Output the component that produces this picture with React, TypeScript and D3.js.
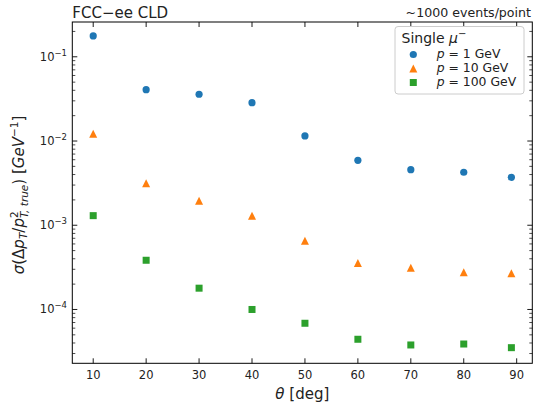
import React from "react";
import * as d3 from "d3";

const thetas = [10, 20, 30, 40, 50, 60, 70, 80, 89];
const p1GeV = [0.177, 0.0407, 0.0359, 0.0285, 0.01148, 0.0059, 0.00457, 0.00426, 0.00371];
const p10GeV = [0.01222, 0.00315, 0.00196, 0.0013, 0.000656, 0.000356, 0.000313, 0.000277, 0.000269];
const p100GeV = [0.0013, 0.000384, 0.000179, 0.0001, 6.86e-5, 4.43e-5, 3.79e-5, 3.89e-5, 3.52e-5];
const xTicks = [10, 20, 30, 40, 50, 60, 70, 80, 90];
const yDecades = [-4, -3, -2, -1];
const legendLabels = ["1", "10", "100"];

const W = 534, H = 403;
const L = 72.3, R = 532.3, T = 22, B = 363.3;
const FONT = "DejaVu Sans, sans-serif";
const colors = ["#1f77b4", "#ff7f0e", "#2ca02c"];

export default function App() {
  const x = d3.scaleLinear().domain([6.05, 92.95]).range([L, R]);
  const y = d3.scaleLog().domain([Math.pow(10, -4.639), Math.pow(10, -0.587)]).range([B, T]);
  const [ymin, ymax] = y.domain();
  const minors: number[] = [];
  for (let e = -5; e <= 0; e++) {
    for (let k = 2; k <= 9; k++) {
      const v = k * Math.pow(10, e);
      if (v >= ymin && v <= ymax) minors.push(v);
    }
  }
  const series = [p1GeV, p10GeV, p100GeV];

  const marker = (i: number, cx: number, cy: number, key: string) => {
    if (i === 0) return <circle key={key} cx={cx} cy={cy} r={3.6} fill={colors[0]} />;
    if (i === 1) {
      const s = 4;
      return <path key={key} d={`M${cx},${cy - s}L${cx - s},${cy + s}L${cx + s},${cy + s}Z`} fill={colors[1]} />;
    }
    const h = 3.5;
    return <rect key={key} x={cx - h} y={cy - h} width={2 * h} height={2 * h} fill={colors[2]} />;
  };

  return (
    <svg width={W} height={H} style={{ position: "fixed", left: 0, top: 0, background: "#fff" }} fontFamily={FONT}>
      <rect x={0} y={0} width={W} height={H} fill="#fff" />
      {/* ticks */}
      {xTicks.map((t) => (
        <g key={"xt" + t}>
          <line x1={x(t)} x2={x(t)} y1={B} y2={B - 5} stroke="#000" strokeWidth={0.9} />
          <line x1={x(t)} x2={x(t)} y1={T} y2={T + 5} stroke="#000" strokeWidth={0.9} />
          <text x={x(t)} y={379} fontSize={11.5} textAnchor="middle" fill="#222">{t}</text>
        </g>
      ))}
      {yDecades.map((e) => {
        const yy = y(Math.pow(10, e));
        return (
          <g key={"yt" + e}>
            <line x1={L} x2={L + 5} y1={yy} y2={yy} stroke="#000" strokeWidth={0.9} />
            <line x1={R} x2={R - 5} y1={yy} y2={yy} stroke="#000" strokeWidth={0.9} />
            <text x={67} y={yy + 4} fontSize={11.5} textAnchor="end" fill="#222">
              10<tspan dy={-5} fontSize={8.5}>{"\u2212" + -e}</tspan>
            </text>
          </g>
        );
      })}
      {minors.map((v, i) => (
        <g key={"mn" + i}>
          <line x1={L} x2={L + 3} y1={y(v)} y2={y(v)} stroke="#000" strokeWidth={0.7} />
          <line x1={R} x2={R - 3} y1={y(v)} y2={y(v)} stroke="#000" strokeWidth={0.7} />
        </g>
      ))}
      {/* data */}
      {series.map((s, i) => (
        <g key={"s" + i}>
          {s.map((v, j) => marker(i, x(thetas[j]), y(v), `m${i}-${j}`))}
        </g>
      ))}
      {/* frame */}
      <rect x={L} y={T} width={R - L} height={B - T} fill="none" stroke="#000" strokeWidth={1} />
      {/* titles */}
      <text x={L} y={17.5} fontSize={15} fill="#222">FCC{"\u2212"}ee CLD</text>
      <text x={531} y={16.5} fontSize={12.6} textAnchor="end" fill="#222">~1000 events/point</text>
      {/* x label */}
      <text x={(L + R) / 2} y={399} fontSize={15} textAnchor="middle" fill="#222">
        <tspan fontStyle="italic">θ</tspan> [deg]
      </text>
      {/* y label */}
      <text transform={`translate(24,195) rotate(-90)`} fontSize={15} textAnchor="middle" fill="#222">
        <tspan fontStyle="italic">σ</tspan>(Δ<tspan fontStyle="italic">p</tspan>
        <tspan fontStyle="italic" fontSize={10.5} dy={3}>T</tspan>
        <tspan dy={-3}>/</tspan><tspan fontStyle="italic">p</tspan>
        <tspan fontSize={10.5} dy={-6}>2</tspan>
        <tspan fontStyle="italic" fontSize={10.5} dx={-6.7} dy={10}>T, true</tspan>
        <tspan dy={-4}>) [</tspan><tspan fontStyle="italic">GeV</tspan>
        <tspan fontSize={10.5} dy={-6}>{"\u22121"}</tspan>
        <tspan dy={6}>]</tspan>
      </text>
      {/* legend */}
      <rect x={395} y={26.5} width={129} height={67.5} rx={3} fill="#fff" fillOpacity={0.8} stroke="#ccc" strokeWidth={1} />
      <text x={401.5} y={42.5} fontSize={14} fill="#222">
        Single <tspan fontStyle="italic">μ</tspan><tspan fontSize={10} dy={-6}>{"\u2212"}</tspan>
      </text>
      {legendLabels.map((lab, i) => {
        const yy = 54.5 + i * 14;
        return (
          <g key={"lg" + i}>
            {marker(i, 413.3, yy, "lm" + i)}
            <text x={436.7} y={yy + 3} fontSize={12.4} fill="#222">
              <tspan fontStyle="italic">p</tspan> = {lab} GeV
            </text>
          </g>
        );
      })}
    </svg>
  );
}
